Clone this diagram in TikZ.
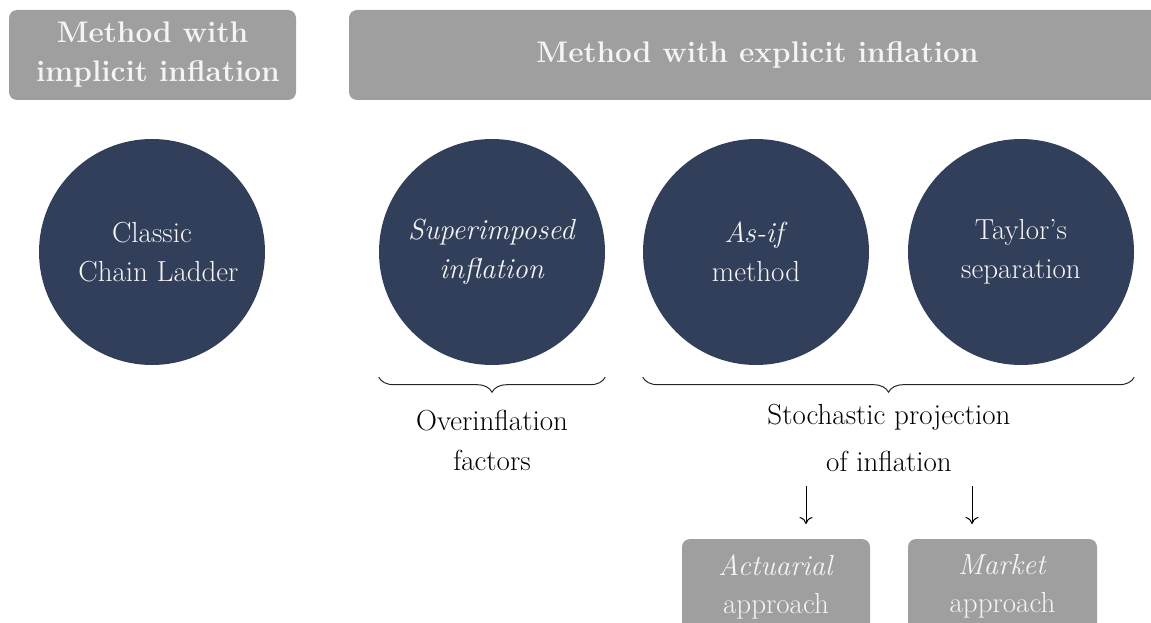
\documentclass[tikz,border=0pt]{standalone}
\usetikzlibrary{decorations.pathreplacing,arrows.meta}
\definecolor{boxgray}{HTML}{9E9F9E}
\definecolor{navy}{HTML}{323F5A}
\definecolor{lighttext}{HTML}{F4F4F4}
\tikzset{
  hdr/.style={fill=boxgray, rounded corners=8pt, text=lighttext, align=center, inner sep=0pt,
    font=\fontsize{29.8pt}{39pt}\selectfont\bfseries, minimum height=90pt},
  circ/.style={circle, fill=navy, text=lighttext, align=center, minimum size=226pt, inner sep=0pt,
    font=\fontsize{29pt}{39pt}\selectfont},
  lbl/.style={align=center, inner sep=0pt, text=black, font=\fontsize{29pt}{40pt}\selectfont},
  appbox/.style={fill=boxgray, rounded corners=8pt, text=lighttext, align=center, inner sep=0pt,
    minimum height=95pt, font=\fontsize{29pt}{38pt}\selectfont},
  bracestyle/.style={decorate, decoration={brace, mirror, amplitude=15pt}, line width=1pt, draw=black!85},
  arr/.style={-{To[length=7pt,width=13pt]}, line width=1pt}
}
\begin{document}
\begin{tikzpicture}[x=1pt,y=-1pt]
\useasboundingbox (0,0) rectangle (1151,623);
\clip (0,0) rectangle (1151,623);
% headers
\node[hdr, minimum width=287pt] (h1) at (152.5,55) {Method with\\\hspace*{11pt}implicit inflation};
\node[hdr, minimum width=817pt] (h2) at (757.5,55) {Method with explicit inflation};
% circles
\node[circ] (c1) at (152,252) {Classic\\\hspace*{13pt}Chain Ladder};
\node[circ] (c2) at (492,252) {\textit{Superimposed}\\\textit{inflation}};
\node[circ] (c3) at (756,252) {\textit{As-if}\\method};
\node[circ] (c4) at (1021,252) {Taylor's\\separation};
% braces
\coordinate (b1s) at ([yshift=-12pt]c2.west |- c2.south);
\coordinate (b1e) at ([yshift=-12pt]c2.east |- c2.south);
\coordinate (b2s) at ([yshift=-12pt]c3.west |- c3.south);
\coordinate (b2e) at ([yshift=-12pt]c4.east |- c4.south);
\draw[bracestyle] (b1s) -- (b1e);
\draw[bracestyle] (b2s) -- (b2e);
% labels
\node[lbl] (over) at (492,440.5) {Overinflation\\factors};
\node[lbl, font=\fontsize{29pt}{47pt}\selectfont] (stoch) at (889,438) {Stochastic projection\\of inflation};
% arrows
\coordinate (a1s) at (806,486);
\coordinate (a1e) at (806,524);
\coordinate (a2s) at (972,486);
\coordinate (a2e) at (972,524);
\draw[arr] (a1s) -- (a1e);
\draw[arr] (a2s) -- (a2e);
% approach boxes
\node[appbox, minimum width=188pt] (act) at (776,586.5) {\textit{Actuarial}\\approach};
\node[appbox, minimum width=189pt] (mkt) at (1002.5,586.5) {\textit{Market}\\approach};
\end{tikzpicture}
\end{document}
